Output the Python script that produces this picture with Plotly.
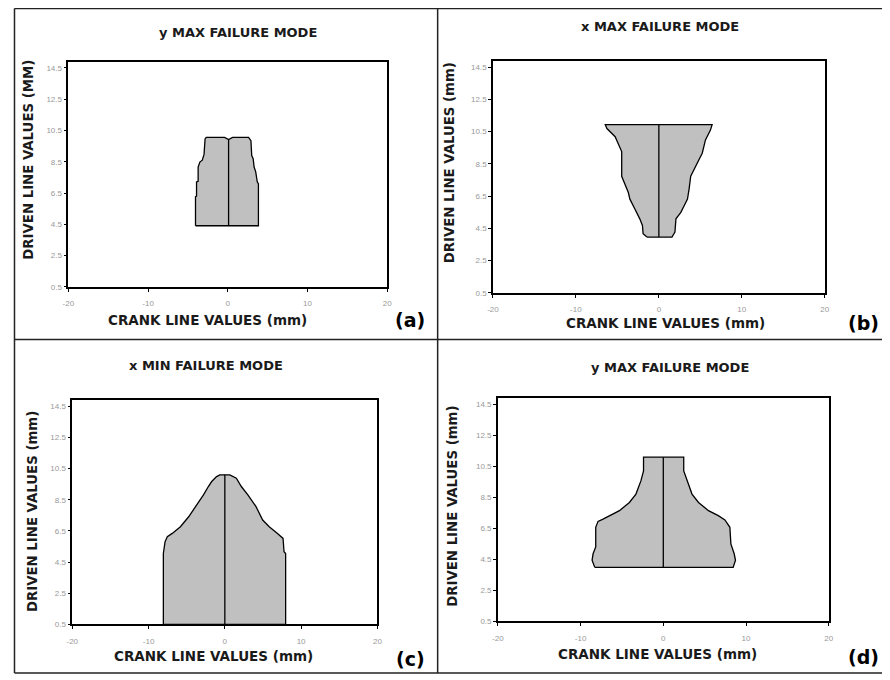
import plotly.graph_objects as go

# ---------------- data ----------------
# panel (a): boundary points (x, y), left side bottom->top, right side top->bottom
a_left_x = [-4.05, -4.05, -3.92, -3.92, -3.72, -3.72, -3.5, -3.2, -2.98, -2.85, -2.7, -0.4, 0.1]
a_left_y = [4.41, 6.26, 6.3, 7.21, 7.25, 8.16, 8.48, 8.6, 8.97, 9.96, 10.06, 10.06, 9.92]
a_right_x = [0.6, 2.6, 2.9, 3.0, 3.18, 3.3, 3.5, 3.7, 3.84, 3.84]
a_right_y = [10.06, 10.06, 9.85, 8.9, 8.7, 8.16, 7.85, 7.2, 7.1, 4.41]
a_center_x = [0.1, 0.1]
a_center_y = [4.41, 9.92]

# panel (b)
b_left_x = [-1.43, -1.9, -1.98, -2.3, -2.89, -3.49, -3.68, -4.08, -4.48, -4.48, -4.75, -5.27, -6.26, -6.46]
b_left_y = [3.96, 4.17, 4.68, 5.09, 5.7, 6.31, 6.72, 7.22, 7.73, 9.26, 9.57, 10.18, 10.69, 10.93]
b_right_x = [6.42, 6.22, 5.62, 5.23, 4.83, 4.24, 3.84, 3.64, 3.45, 3.05, 2.65, 2.06, 1.94, 1.58]
b_right_y = [10.93, 10.59, 9.98, 9.16, 8.75, 8.14, 7.73, 6.92, 6.31, 5.9, 5.49, 5.09, 4.27, 3.96]
b_center_x = [0, 0]
b_center_y = [3.96, 10.93]

# panel (c)
c_left_x = [-8.06, -8.06, -7.84, -7.54, -6.9, -5.82, -4.74, -3.66, -2.8, -2.16, -1.72, -1.08, -0.65, 0.0]
c_left_y = [0.5, 5.05, 5.8, 6.13, 6.34, 6.77, 7.41, 8.17, 8.81, 9.35, 9.67, 9.99, 10.1, 10.1]
c_right_x = [0.65, 1.51, 2.16, 3.02, 4.09, 4.96, 5.82, 6.9, 7.63, 7.76, 7.97, 7.97]
c_right_y = [10.1, 9.88, 9.35, 8.81, 8.06, 7.2, 6.77, 6.34, 6.02, 5.16, 5.05, 0.5]
c_center_x = [0, 0]
c_center_y = [0.5, 10.1]

# panel (d)
d_left_x = [-8.29, -8.61, -8.49, -8.17, -8.17, -7.89, -7.29, -6.49, -5.3, -4.1, -3.31, -2.71, -2.39, -2.39]
d_left_y = [3.99, 4.44, 4.86, 5.3, 6.57, 6.95, 7.1, 7.32, 7.64, 8.17, 8.71, 9.56, 10.2, 11.09]
d_right_x = [2.47, 2.47, 2.87, 3.47, 4.26, 5.46, 6.65, 7.45, 8.05, 8.17, 8.57, 8.73, 8.45]
d_right_y = [11.09, 10.2, 9.56, 8.71, 8.17, 7.64, 7.32, 7.04, 6.57, 5.5, 4.86, 4.44, 3.99]
d_center_x = [0, 0]
d_center_y = [3.99, 11.09]

titles = ["y MAX FAILURE MODE", "x MAX FAILURE MODE", "x MIN FAILURE MODE", "y MAX FAILURE MODE"]
ytitles = ["DRIVEN LINE VALUES (MM)", "DRIVEN LINE VALUES (mm)", "DRIVEN LINE VALUES (mm)", "DRIVEN LINE VALUES (mm)"]
xtitle = "CRANK LINE VALUES (mm)"
labels = ["(a)", "(b)", "(c)", "(d)"]
x_ticks = [-20, -10, 0, 10, 20]
y_ticks = [0.5, 2.5, 4.5, 6.5, 8.5, 10.5, 12.5, 14.5]

panels = [
    (a_left_x, a_left_y, a_right_x, a_right_y, a_center_x, a_center_y),
    (b_left_x, b_left_y, b_right_x, b_right_y, b_center_x, b_center_y),
    (c_left_x, c_left_y, c_right_x, c_right_y, c_center_x, c_center_y),
    (d_left_x, d_left_y, d_right_x, d_right_y, d_center_x, d_center_y),
]

# ---------------- layout geometry (window pixels) ----------------
OFF = 8                     # default page body margin
W, H = 890 - OFF, 680 - OFF  # figure size so it fits the window exactly

boxes = [(63, 386, 62, 289), (493, 829, 61, 295), (67, 376, 403, 629), (498, 833, 401, 626)]
title_pos = [(235, 33), (662, 27), (202, 368), (672, 370)]
xtitle_pos = [(204, 322), (668, 325), (210, 661), (660, 659)]
ytitle_pos = [(23, 161), (449, 164), (26, 515), (452, 510)]
label_pos = [(409, 322), (868, 325), (410, 664), (868, 662)]


def px(x):
    return (x - OFF) / W


def py(y):
    return 1 - (y - OFF) / H


FONT = "DejaVu Sans, Verdana, sans-serif"
TFONT = "Liberation Sans, Arial, sans-serif"

fig = go.Figure()
layout = dict(
    width=W, height=H, margin=dict(l=0, r=0, t=0, b=0),
    paper_bgcolor="white", plot_bgcolor="white", showlegend=False,
)
annotations = []
shapes = []

for i, (lx, ly, rx, ry, cx, cy) in enumerate(panels):
    sfx = "" if i == 0 else str(i + 1)
    xa, ya = "x" + sfx, "y" + sfx
    fig.add_trace(go.Scatter(
        x=list(lx) + list(rx) + [lx[0]], y=list(ly) + list(ry) + [ly[0]],
        mode="lines", fill="toself", fillcolor="#c0c0c0",
        line=dict(color="black", width=1.3), xaxis=xa, yaxis=ya, hoverinfo="skip"))
    fig.add_trace(go.Scatter(
        x=cx, y=cy, mode="lines", line=dict(color="black", width=1.3),
        xaxis=xa, yaxis=ya, hoverinfo="skip"))
    x0, x1, yt, yb = boxes[i]
    common = dict(showgrid=False, zeroline=False, showline=True, linecolor="black",
                  linewidth=1.5, mirror=True, ticks="outside", ticklen=3, tickwidth=1.2,
                  tickcolor="black", tickfont=dict(family=TFONT, size=8, color="#999999"))
    layout["xaxis" + sfx] = dict(domain=[px(x0), px(x1)], range=[-20, 20],
                                 tickvals=x_ticks, ticktext=[str(v) for v in x_ticks],
                                 anchor=ya, ticklabelstandoff=5, **common)
    layout["yaxis" + sfx] = dict(domain=[py(yb), py(yt)], range=[0.5, 14.9],
                                 tickvals=y_ticks, ticktext=[str(v) for v in y_ticks],
                                 anchor=xa, **common)
    tx, ty = title_pos[i]
    annotations.append(dict(x=px(tx), y=py(ty), xref="paper", yref="paper", showarrow=False,
                            xanchor="center", yanchor="middle",
                            text="<b>" + titles[i] + "</b>",
                            font=dict(family=FONT, size=13, color="#1a1a1a")))
    tx, ty = xtitle_pos[i]
    annotations.append(dict(x=px(tx), y=py(ty), xref="paper", yref="paper", showarrow=False,
                            xanchor="center", yanchor="middle",
                            text="<b>" + xtitle + "</b>",
                            font=dict(family=FONT, size=13.5, color="#1a1a1a")))
    tx, ty = ytitle_pos[i]
    annotations.append(dict(x=px(tx), y=py(ty), xref="paper", yref="paper", showarrow=False,
                            xanchor="center", yanchor="middle",
                            text="<b>" + ytitles[i] + "</b>", textangle=-90,
                            font=dict(family=FONT, size=13.3, color="#1a1a1a")))
    tx, ty = label_pos[i]
    annotations.append(dict(x=px(tx), y=py(ty), xref="paper", yref="paper", showarrow=False,
                            xanchor="center", yanchor="middle",
                            text="<b>" + labels[i] + "</b>",
                            font=dict(family=FONT, size=19, color="black")))

# frame lines around / between panels
frame = [(8.5, 8.5, 890, 8.5), (8.5, 8.5, 8.5, 678), (8.5, 678, 890, 678),
         (437, 8.5, 437, 678), (8.5, 342, 890, 342)]
for (x0, y0, x1, y1) in frame:
    shapes.append(dict(type="line", xref="paper", yref="paper",
                       x0=px(x0), y0=py(y0), x1=px(x1), y1=py(y1),
                       line=dict(color="#222", width=1.5)))

layout["annotations"] = annotations
layout["shapes"] = shapes
fig.update_layout(**layout)
fig.write_html("out.html")
